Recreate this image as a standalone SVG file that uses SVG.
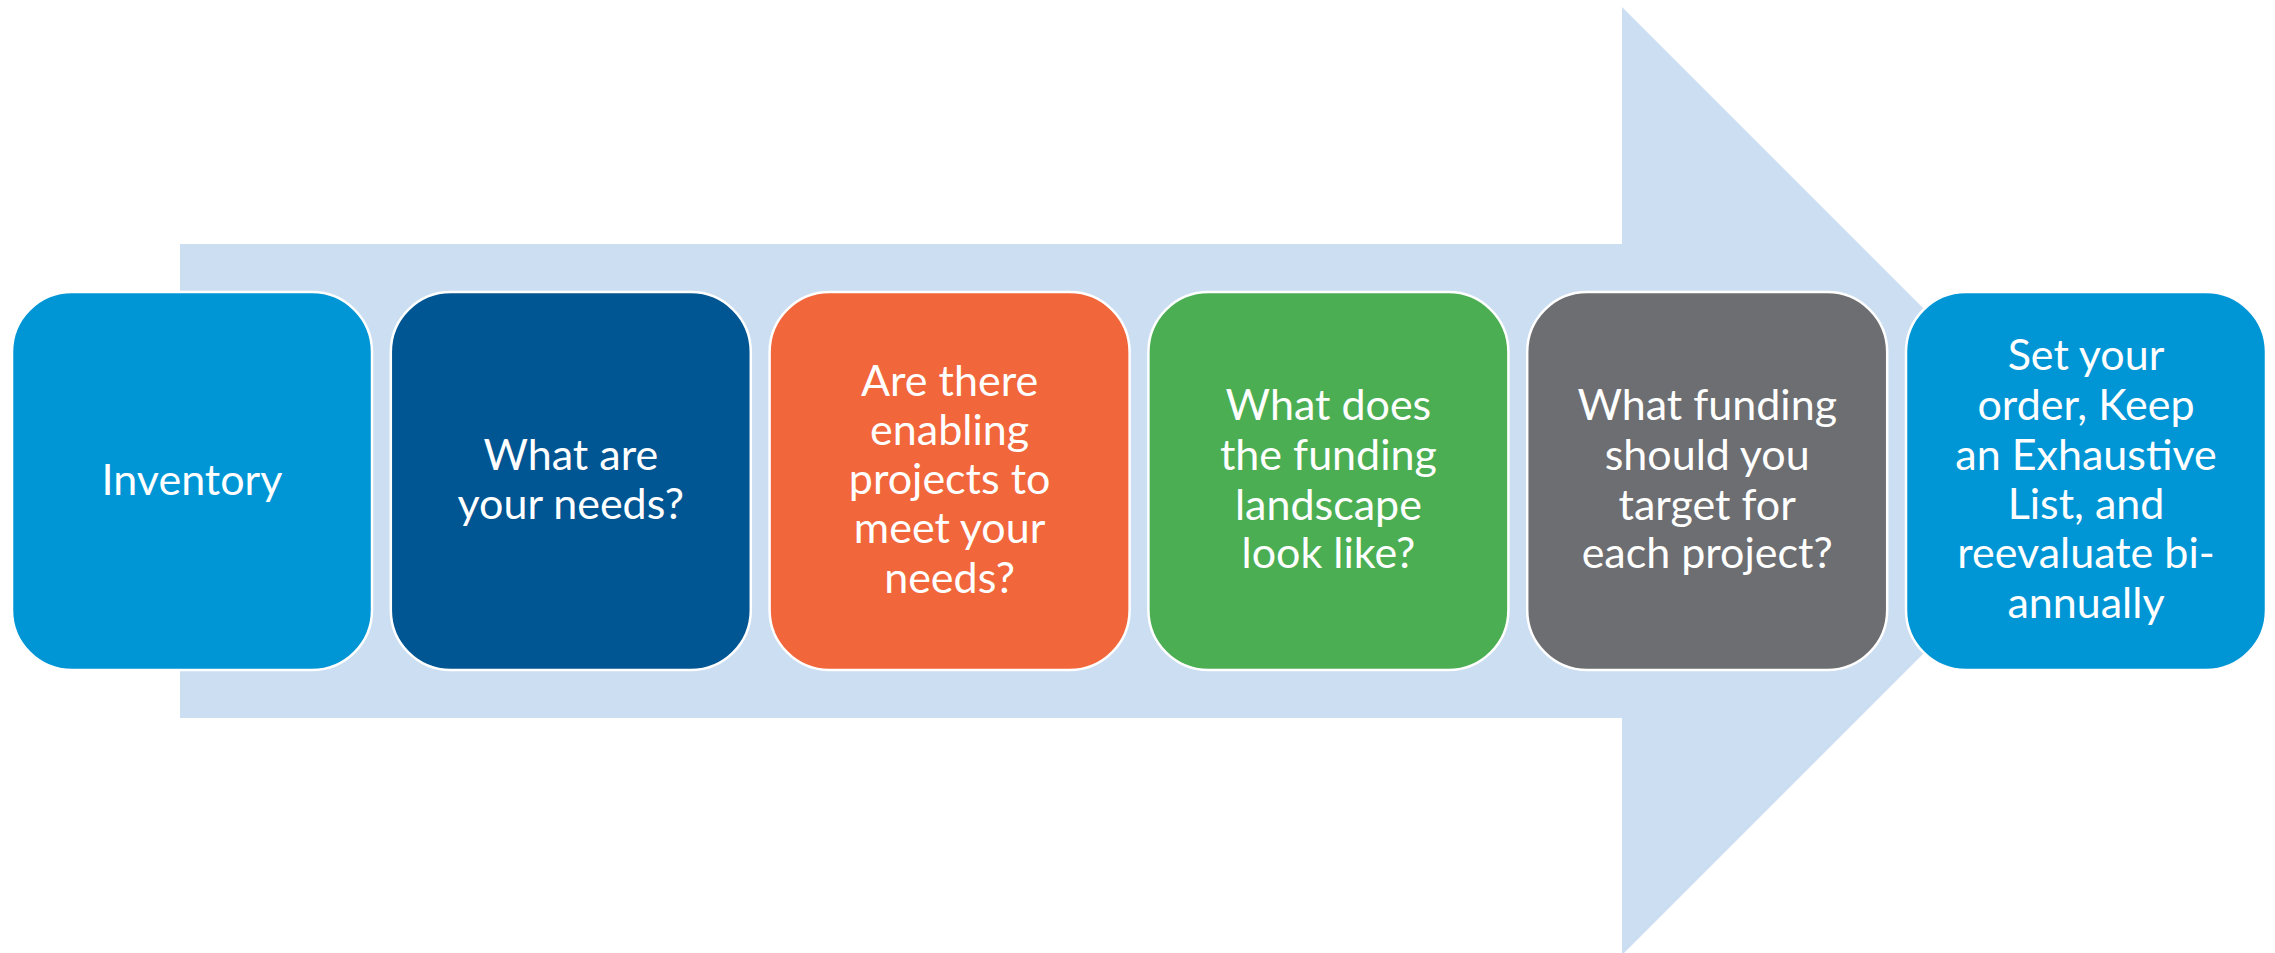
<svg xmlns="http://www.w3.org/2000/svg" width="2275" height="953" viewBox="0 0 2275 953">
<style>
.box{stroke:#FFFFFF;stroke-width:2.5}
.lbl{font-family:Lato,"Liberation Sans",sans-serif;font-size:43px;fill:#FFFFFF;text-anchor:middle}
</style>
<rect width="2275" height="953" fill="#FFFFFF"/>
<g id="connectors">
<polygon id="arrow" points="180,244 1622,244 1622,7 2096,481 1622,955 1622,718 180,718" fill="#CCDEF1"/>
</g>
<g id="node1">
<rect class="box" x="12" y="292" width="360" height="378" rx="60" fill="#0096D6"/>
<text class="lbl" x="192" y="495">Inventory</text>
</g>
<g id="node2">
<rect class="box" x="390.8" y="292" width="360" height="378" rx="60" fill="#005593"/>
<text class="lbl" x="570.8" y="470">What are</text>
<text class="lbl" x="570.8" y="519">your needs?</text>
</g>
<g id="node3">
<rect class="box" x="769.6" y="292" width="360" height="378" rx="60" fill="#F1663B"/>
<text class="lbl" x="949.6" y="396">Are there</text>
<text class="lbl" x="949.6" y="445">enabling</text>
<text class="lbl" x="949.6" y="494">projects to</text>
<text class="lbl" x="949.6" y="543">meet your</text>
<text class="lbl" x="949.6" y="593">needs?</text>
</g>
<g id="node4">
<rect class="box" x="1148.4" y="292" width="360" height="378" rx="60" fill="#4BAE53"/>
<text class="lbl" x="1328.4" y="420">What does</text>
<text class="lbl" x="1328.4" y="470">the funding</text>
<text class="lbl" x="1328.4" y="520">landscape</text>
<text class="lbl" x="1328.4" y="568">look like?</text>
</g>
<g id="node5">
<rect class="box" x="1527.2" y="292" width="360" height="378" rx="60" fill="#6D6E71"/>
<text class="lbl" x="1707.2" y="420">What funding</text>
<text class="lbl" x="1707.2" y="470">should you</text>
<text class="lbl" x="1707.2" y="520">target for</text>
<text class="lbl" x="1707.2" y="568">each project?</text>
</g>
<g id="node6">
<rect class="box" x="1906" y="292" width="360" height="378" rx="60" fill="#0096D6"/>
<text class="lbl" x="2086" y="370">Set your</text>
<text class="lbl" x="2086" y="420">order, Keep</text>
<text class="lbl" x="2086" y="470">an Exhaustive</text>
<text class="lbl" x="2086" y="519">List, and</text>
<text class="lbl" x="2086" y="568">reevaluate bi-</text>
<text class="lbl" x="2086" y="618">annually</text>
</g>
</svg>
